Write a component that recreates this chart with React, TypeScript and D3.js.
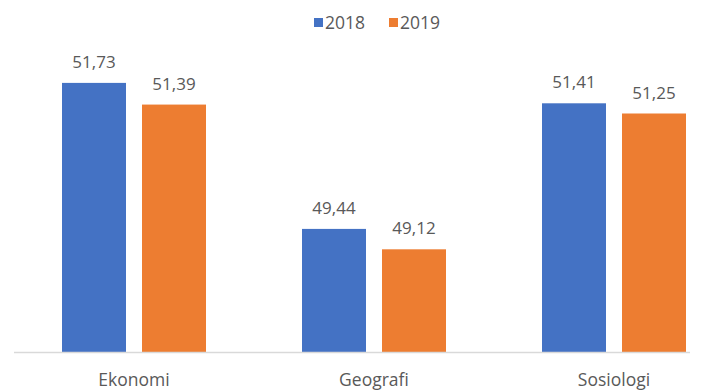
import React from "react";
import * as d3 from "d3";

const categories = ["Ekonomi", "Geografi", "Sosiologi"];
const seriesNames = ["2018", "2019"];
const values2018 = [51.73, 49.44, 51.41];
const values2019 = [51.39, 49.12, 51.25];
const colors = ["#4472C4", "#ED7D31"];

const W = 720;
const H = 391;
const FONT = "'Open Sans', 'Noto Sans', sans-serif";

export default function App() {
  const x0 = d3.scaleBand<string>().domain(categories).range([14, 734]).padding(0);
  const x1 = d3
    .scaleBand<string>()
    .domain(seriesNames)
    .range([x0.bandwidth() * 0.2, x0.bandwidth() * 0.8])
    .paddingInner(0.2)
    .paddingOuter(0);
  const y = d3.scaleLinear().domain([47.5, 52.5]).range([352.6, 33.8]);
  const series = [values2018, values2019];
  const fmt = (v: number) => v.toFixed(2).replace(".", ",");
  const legendX = [314, 389];

  return (
    <svg
      width={W}
      height={H}
      style={{ position: "absolute", left: 0, top: 0, background: "#fff" }}
      fontFamily={FONT}
    >
      <rect width={W} height={H} fill="#fff" />
      {seriesNames.map((s, i) => (
        <g key={s}>
          <rect x={legendX[i]} y={18} width={9} height={9} fill={colors[i]} />
          <text x={legendX[i] + 11} y={28.5} fontSize={17.5} fill="#595959">
            {s}
          </text>
        </g>
      ))}
      {categories.map((c, ci) => (
        <g key={c} transform={`translate(${x0(c)},0)`}>
          {seriesNames.map((s, si) => {
            const v = series[si][ci];
            const bx = x1(s)!;
            return (
              <g key={s}>
                <rect
                  x={bx}
                  y={y(v)}
                  width={x1.bandwidth()}
                  height={y(47.5) - y(v)}
                  fill={colors[si]}
                />
                <text
                  x={bx + x1.bandwidth() / 2}
                  y={y(v) - 15}
                  textAnchor="middle"
                  fontSize={17}
                  fill="#595959"
                >
                  {fmt(v)}
                </text>
              </g>
            );
          })}
          <text
            x={x0.bandwidth() / 2}
            y={386}
            textAnchor="middle"
            fontSize={17.5}
            fill="#595959"
          >
            {c}
          </text>
        </g>
      ))}
      <line x1={14} x2={690} y1={352.6} y2={352.6} stroke="#D9D9D9" strokeWidth={1.5} />
    </svg>
  );
}
